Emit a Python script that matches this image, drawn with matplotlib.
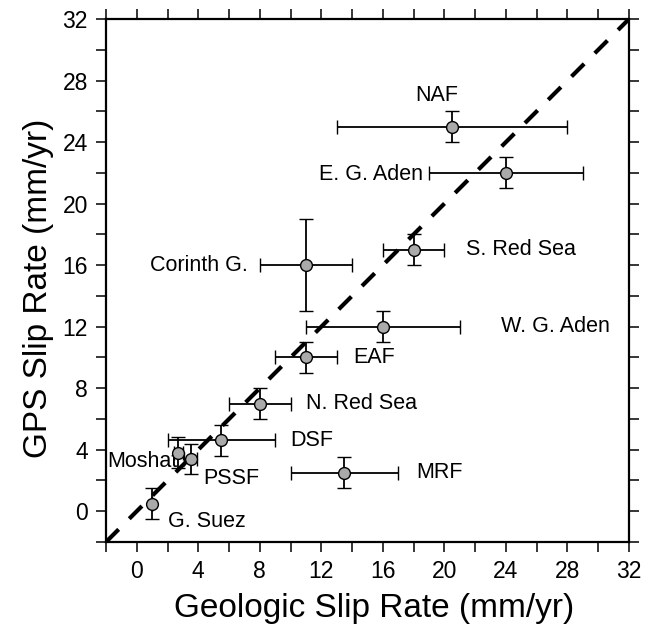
import matplotlib
matplotlib.use("Agg")
import matplotlib.pyplot as plt
from matplotlib.ticker import MultipleLocator

plt.rcParams['font.family'] = ['Liberation Sans', 'DejaVu Sans']

# fault zones: geologic rate (x) vs GPS rate (y)
names = ['NAF', 'E. G. Aden', 'S. Red Sea', 'Corinth G.', 'W. G. Aden', 'EAF',
         'N. Red Sea', 'DSF', 'Moshat', 'PSSF', 'MRF', 'G. Suez']
geo = [20.5, 24, 18, 11, 16, 11, 8, 5.5, 2.7, 3.5, 13.5, 1]
geo_lo = [13, 19, 16, 8, 11, 9, 6, 2, 2.4, 3.1, 10, 1]
geo_hi = [28, 29, 20, 14, 21, 13, 10, 9, 3.0, 3.9, 17, 1]
gps = [25, 22, 17, 16, 12, 10, 7, 4.6, 3.8, 3.4, 2.5, 0.5]
gps_err = [1, 1, 1, 3, 1, 1, 1, 1, 1, 1, 1, 1]

# label anchor points and alignment
lab_x = [19.5, 18.6, 21.4, 7.2, 23.7, 14.1, 11.0, 10.0, -1.9, 4.3, 18.2, 2.0]
lab_y = [27.0, 21.9, 17.0, 16.0, 12.0, 10.0, 7.0, 4.6, 3.25, 2.1, 2.5, -0.65]
lab_ha = ['center', 'right', 'left', 'right', 'left', 'left', 'left', 'left',
          'left', 'left', 'left', 'left']

fig = plt.figure(figsize=(6.55, 6.34), dpi=100)
ax = fig.add_axes([0.1618, 0.1451, 0.7985, 0.8249])

ax.plot([-2, 32], [-2, 32], color='black', lw=3, ls=(0, (4.3, 3.6)), zorder=1)

xerr = [[g - l for g, l in zip(geo, geo_lo)], [h - g for g, h in zip(geo, geo_hi)]]
ax.errorbar(geo, gps, xerr=xerr, yerr=gps_err, fmt='o', color='black',
            mfc='#aaaaaa', mec='black', mew=1, ms=8.5, elinewidth=1.3,
            capsize=5, capthick=1.3, zorder=3)

for n, x, y, ha in zip(names, lab_x, lab_y, lab_ha):
    ax.text(x, y, n, ha=ha, va='center', fontsize=15.5, zorder=2)

ax.set_xlim(-2, 32)
ax.set_ylim(-2, 32)
ax.xaxis.set_major_locator(MultipleLocator(4))
ax.yaxis.set_major_locator(MultipleLocator(4))
ax.xaxis.set_minor_locator(MultipleLocator(2))
ax.yaxis.set_minor_locator(MultipleLocator(2))
ax.tick_params(which='both', direction='out', length=7, width=1.1,
               top=True, right=True, labelsize=16.5, pad=6)

for s in ax.spines.values():
    s.set_linewidth(1.6)

ax.set_xlabel('Geologic Slip Rate (mm/yr)', fontsize=24)
ax.set_ylabel('GPS Slip Rate (mm/yr)', fontsize=24)
ax.xaxis.set_label_coords(0.512, -0.098)
ax.yaxis.set_label_coords(-0.1, 0.485)

fig.savefig('out.png', dpi=100)
